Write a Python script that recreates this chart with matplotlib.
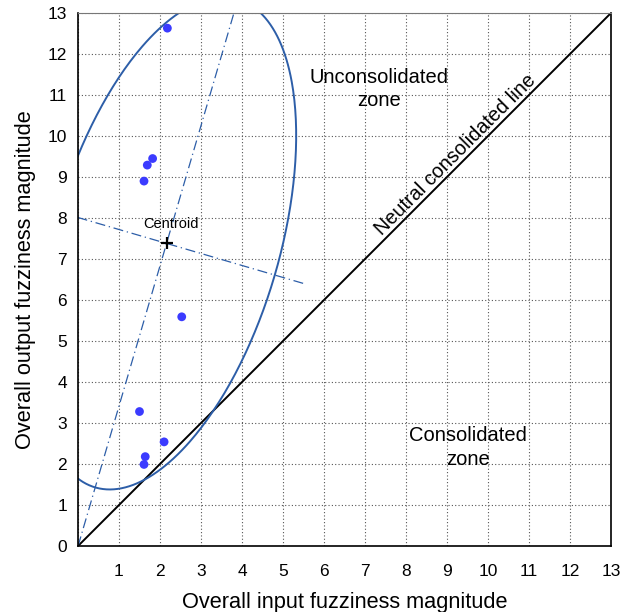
import numpy as np
import matplotlib.pyplot as plt

plt.rcParams['font.family'] = ['Liberation Sans', 'DejaVu Sans']

# observed samples (input vs output fuzziness magnitude)
x_in = [2.18, 1.82, 1.69, 1.61, 2.53, 1.50, 2.10, 1.64, 1.61]
y_out = [12.63, 9.45, 9.29, 8.90, 5.59, 3.28, 2.54, 2.18, 1.99]

# fitted ellipse
centroid = (2.16, 7.38)
angle_deg = 73.7
semi_major = 6.2
semi_minor = 2.75
major_len = 7.69   # half-length of drawn major-axis line
minor_len = 3.47   # half-length of drawn minor-axis line

ticks = list(range(0, 14))
ell_col = '#2d5ea8'

fig = plt.figure(figsize=(6.2, 6.12), dpi=100)
ax = fig.add_axes([0.1258, 0.1078, 0.8597, 0.871])

# neutral line y = x
ax.plot([0, 13], [0, 13], color='black', lw=1.4)

# ellipse
th = np.radians(angle_deg)
u = np.array([np.cos(th), np.sin(th)])
v = np.array([-np.sin(th), np.cos(th)])
phi = np.linspace(0, 2 * np.pi, 400)
ex = centroid[0] + semi_major * np.cos(phi) * u[0] + semi_minor * np.sin(phi) * v[0]
ey = centroid[1] + semi_major * np.cos(phi) * u[1] + semi_minor * np.sin(phi) * v[1]
ax.plot(ex, ey, color=ell_col, lw=1.4)

# axes of the ellipse
c = np.array(centroid)
p1, p2 = c - major_len * u, c + major_len * u
ax.plot([p1[0], p2[0]], [p1[1], p2[1]], color=ell_col, lw=0.9, ls=(0, (8, 3, 1, 3)))
q1, q2 = c - minor_len * v, c + minor_len * v
ax.plot([q1[0], q2[0]], [q1[1], q2[1]], color=ell_col, lw=0.9, ls=(0, (8, 3, 1, 3)))

# points and centroid
ax.scatter(x_in, y_out, s=40, color='#3b3bff', zorder=5, edgecolors='none')
ax.plot(centroid[0], centroid[1], marker='+', color='black', ms=9, mew=1.6, zorder=6)
ax.text(centroid[0] + 0.1, centroid[1] + 0.3, 'Centroid', fontsize=10.5,
        ha='center', va='bottom')

# annotations
ax.text(7.35, 11.15, 'Unconsolidated\nzone', fontsize=14.5, ha='center', va='center',
        linespacing=1.3)
ax.text(9.5, 2.4, 'Consolidated\nzone', fontsize=14.5, ha='center', va='center',
        linespacing=1.3)
ax.text(9.2, 9.55, 'Neutral consolidated line', fontsize=14.3, rotation=45,
        ha='center', va='center', rotation_mode='anchor')

ax.set_xlim(0, 13)
ax.set_ylim(0, 13)
ax.set_xticks(ticks)
ax.set_xticklabels([''] + [str(t) for t in ticks[1:]])
ax.set_yticks(ticks)
ax.set_yticklabels([str(t) for t in ticks])
ax.tick_params(axis='x', length=0, pad=13, labelsize=12.5)
ax.tick_params(axis='y', length=0, pad=8, labelsize=12.5)
ax.grid(True, color='#555555', ls=(0, (1, 2)), lw=0.8)
ax.set_axisbelow(True)
for s in ['left', 'bottom', 'right']:
    ax.spines[s].set_color('black')
    ax.spines[s].set_linewidth(1.2)
ax.spines['top'].set_color('#777777')

ax.set_xlabel('Overall input fuzziness magnitude', fontsize=15.7, labelpad=9)
ax.set_ylabel('Overall output fuzziness magnitude', fontsize=15.7, labelpad=8)

fig.savefig('out.png', dpi=100)
